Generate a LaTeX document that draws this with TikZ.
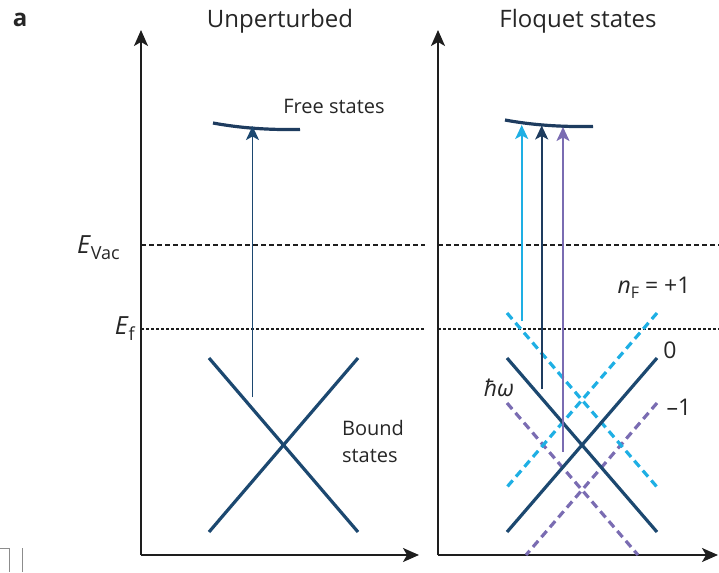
\documentclass[tikz,border=0pt]{standalone}
\usepackage{fontspec}
\setmainfont{Open Sans}
\usetikzlibrary{arrows.meta}
\definecolor{navy}{RGB}{28,72,112}
\definecolor{navydark}{RGB}{30,60,95}
\definecolor{cyanl}{RGB}{30,175,228}
\definecolor{purp}{RGB}{122,108,178}
\definecolor{axisc}{RGB}{30,30,30}
\tikzset{
  axisline/.style={draw=axisc,line width=1.8pt,-{Stealth[length=16pt,width=14pt,inset=4pt]}},
  band/.style={draw=navy,line width=3.2pt},
  bandp/.style={draw=cyanl,line width=3.2pt,dash pattern=on 8pt off 5pt},
  bandm/.style={draw=purp,line width=3.2pt,dash pattern=on 8pt off 5pt},
  free/.style={draw=navydark,line width=3.2pt},
  exc/.style={line width=1.9pt,-{Stealth[length=14pt,width=13pt,inset=3.5pt]}},
  vac/.style={draw=axisc,line width=1.3pt,dash pattern=on 5pt off 3pt},
  fermi/.style={draw=axisc,line width=1.3pt,dash pattern=on 3pt off 2pt},
  lbl/.style={inner sep=0pt,text=black!85}
}
\begin{document}
\begin{tikzpicture}[x=1pt,y=-1pt]
\useasboundingbox (0,0) rectangle (719,572);
% ---------- titles
\node[lbl,font=\fontsize{24}{24}\selectfont\bfseries] (lab) at (20,20) {a};
\node[lbl,font=\fontsize{24}{26}\selectfont] (t1) at (280,21) {Unperturbed};
\node[lbl,font=\fontsize{24}{26}\selectfont] (t2) at (578,21) {Floquet states};
% ---------- axes
\coordinate (o1) at (141,555);
\coordinate (y1) at (141,30);
\coordinate (x1) at (419,555);
\coordinate (o2) at (438,555);
\coordinate (y2) at (438,30);
\coordinate (x2) at (718,555);
\draw[axisline] (o1) -- (y1);
\draw[axisline] (o1) -- (x1);
\draw[axisline] (o2) -- (y2);
\draw[axisline] (o2) -- (x2);
% ---------- energy levels
\coordinate (v1) at (141,245); \coordinate (v2) at (425,245);
\coordinate (v3) at (438,245); \coordinate (v4) at (719,245);
\coordinate (f1) at (141,329); \coordinate (f2) at (425,329);
\coordinate (f3) at (438,329); \coordinate (f4) at (719,329);
\draw[vac] (v1) -- (v2);
\draw[vac] (v3) -- (v4);
\draw[fermi] (f1) -- (f2);
\draw[fermi] (f3) -- (f4);
\node[lbl,anchor=base east,font=\fontsize{25}{25}\selectfont] (ev) at (120,253)
  {\textit{E}\raisebox{-0.45ex}{\fontsize{18}{18}\selectfont Vac}};
\node[lbl,anchor=base east,font=\fontsize{25}{25}\selectfont] (ef) at (135,334)
  {\textit{E}\raisebox{-0.45ex}{\fontsize{18}{18}\selectfont f}};
% ---------- left panel: bound states
\coordinate (a1) at (209,358); \coordinate (a2) at (358,532);
\coordinate (a3) at (358,358); \coordinate (a4) at (209,532);
\draw[band] (a1) -- (a2);
\draw[band] (a3) -- (a4);
\node[lbl,align=left,font=\fontsize{20}{27}\selectfont] (bs) at (373,441) {Bound\\states};
% free states left
\coordinate (p1) at (213,123); \coordinate (p2) at (300,129.5);
\draw[free] (p1) .. controls (240,128) and (268,130) .. (p2);
\node[lbl,font=\fontsize{20}{22}\selectfont] (fs) at (334,106) {Free states};
\coordinate (e1) at (252.5,397); \coordinate (e1t) at (252.5,126);
\draw[exc,draw=navy,fill=navy] (e1) -- (e1t);
% ---------- right panel: Floquet sidebands
\coordinate (m1) at (507,403); \coordinate (m2) at (638,555);
\coordinate (m3) at (657,403); \coordinate (m4) at (526,555);
\draw[bandm] (m1) -- (m2);
\draw[bandm] (m3) -- (m4);
\coordinate (c1) at (507,313); \coordinate (c2) at (657,487);
\coordinate (c3) at (657,313); \coordinate (c4) at (507,487);
\draw[bandp] (c1) -- (c2);
\draw[bandp] (c3) -- (c4);
\coordinate (b1) at (507,358); \coordinate (b2) at (657,532);
\coordinate (b3) at (657,358); \coordinate (b4) at (507,532);
\draw[band] (b1) -- (b2);
\draw[band] (b3) -- (b4);
% free states right
\coordinate (q1) at (505,120); \coordinate (q2) at (593,126.5);
\draw[free] (q1) .. controls (532,125) and (560,127) .. (q2);
% excitation arrows
\coordinate (r1) at (521.7,321); \coordinate (r1t) at (521.7,125);
\coordinate (r2) at (541.7,389); \coordinate (r2t) at (541.7,125.5);
\coordinate (r3) at (563,452); \coordinate (r3t) at (563,127);
\draw[exc,draw=cyanl,fill=cyanl] (r1) -- (r1t);
\draw[exc,draw=navydark,fill=navydark] (r2) -- (r2t);
\draw[exc,draw=purp,fill=purp] (r3) -- (r3t);
% labels
\node[lbl,font=\fontsize{23}{23}\selectfont] (nf) at (654,288)
  {\textit{n}\raisebox{-0.45ex}{\fontsize{16}{16}\selectfont F} = +1};
\node[lbl,font=\fontsize{23}{23}\selectfont] (n0) at (670,350) {0};
\node[lbl,font=\fontsize{23}{23}\selectfont] (nm) at (679,407) {–1};
\node[lbl,font=\fontsize{23}{23}\selectfont] (hw) at (499,388) {\textit{ħω}};
% ---------- stray marks at lower left
\coordinate (s1) at (0,548); \coordinate (s2) at (9.3,548); \coordinate (s3) at (9.3,572);
\coordinate (s4) at (22.7,548); \coordinate (s5) at (22.7,572);
\draw[black!45,line width=0.8pt] (s1) -- (s2) -- (s3);
\draw[black!45,line width=0.8pt] (s4) -- (s5);
\end{tikzpicture}
\end{document}
